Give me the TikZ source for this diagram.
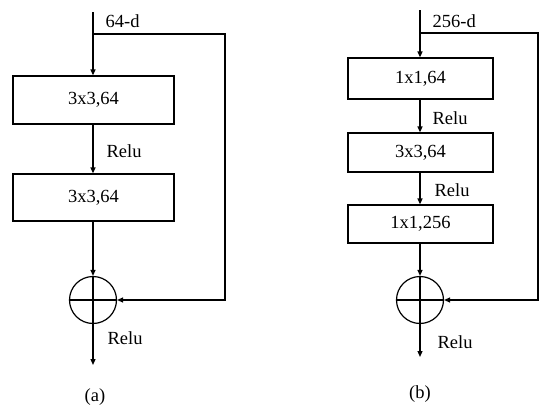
\documentclass[tikz,border=0pt]{standalone}
\usepackage{fontspec}
\setmainfont{Liberation Serif}
\usetikzlibrary{arrows.meta}
\begin{document}
\begin{tikzpicture}[x=1pt,y=-1pt, line width=1.2pt,
  txt/.style={font=\fontsize{18.5}{21}\selectfont},
  conv/.style={draw, txt, inner sep=0, minimum height=40pt},
  lbl/.style={txt, inner sep=0, anchor=west},
  sum/.style={draw, circle, minimum size=47pt, inner sep=0,
    path picture={\draw[line width=1.2pt] (path picture bounding box.north) -- (path picture bounding box.south)
      (path picture bounding box.west) -- (path picture bounding box.east);}},
  arr/.style={-{Triangle[length=6pt,width=5pt]}}]
\useasboundingbox (0,0) rectangle (550,415);
% ---- (a)
\coordinate (atop) at (93,12);
\coordinate (asplit) at (93,34);
\coordinate (ac1) at (225,34);
\coordinate (ac2) at (225,300);
\coordinate (aout) at (93,365);
\node[conv, minimum width=161pt, minimum height=48pt] (ab1) at (93.5,100) {3x3,64};
\node[conv, minimum width=161pt, minimum height=47pt] (ab2) at (93.5,197.5) {3x3,64};
\node[sum] (asum) at (93,300) {};
\draw[arr] (atop) -- (ab1.north -| atop);
\draw[arr] (ab1.south -| atop) -- (ab2.north -| atop);
\draw[arr] (ab2.south -| atop) -- (asum.north);
\draw[arr] (asplit) -- (ac1) -- (ac2) -- (asum.east);
\draw[arr] (asum.south) -- (aout);
\node[lbl] (ad) at (105,21) {64-d};
\node[lbl] (ar1) at (106,151) {Relu};
\node[lbl] (ar2) at (107,338) {Relu};
\node[txt, inner sep=0] (acap) at (95,397) {(a)};
% ---- (b)
\coordinate (btop) at (420,10);
\coordinate (bsplit) at (420,33);
\coordinate (bc1) at (538,33);
\coordinate (bc2) at (538,300);
\coordinate (bout) at (420,357);
\node[conv, minimum width=145pt, minimum height=41pt] (bb1) at (420.5,78.5) {1x1,64};
\node[conv, minimum width=145pt, minimum height=39pt] (bb2) at (420.5,152.5) {3x3,64};
\node[conv, minimum width=145pt, minimum height=38pt] (bb3) at (420.5,224) {1x1,256};
\node[sum] (bsum) at (420,300) {};
\draw[arr] (btop) -- (bb1.north -| btop);
\draw[arr] (bb1.south -| btop) -- (bb2.north -| btop);
\draw[arr] (bb2.south -| btop) -- (bb3.north -| btop);
\draw[arr] (bb3.south -| btop) -- (bsum.north);
\draw[arr] (bsplit) -- (bc1) -- (bc2) -- (bsum.east);
\draw[arr] (bsum.south) -- (bout);
\node[lbl] (bd) at (432,21) {256-d};
\node[lbl] (br1) at (432,118) {Relu};
\node[lbl] (br2) at (434,190) {Relu};
\node[lbl] (br3) at (437,342) {Relu};
\node[txt, inner sep=0] (bcap) at (420,394) {(b)};
\end{tikzpicture}
\end{document}
